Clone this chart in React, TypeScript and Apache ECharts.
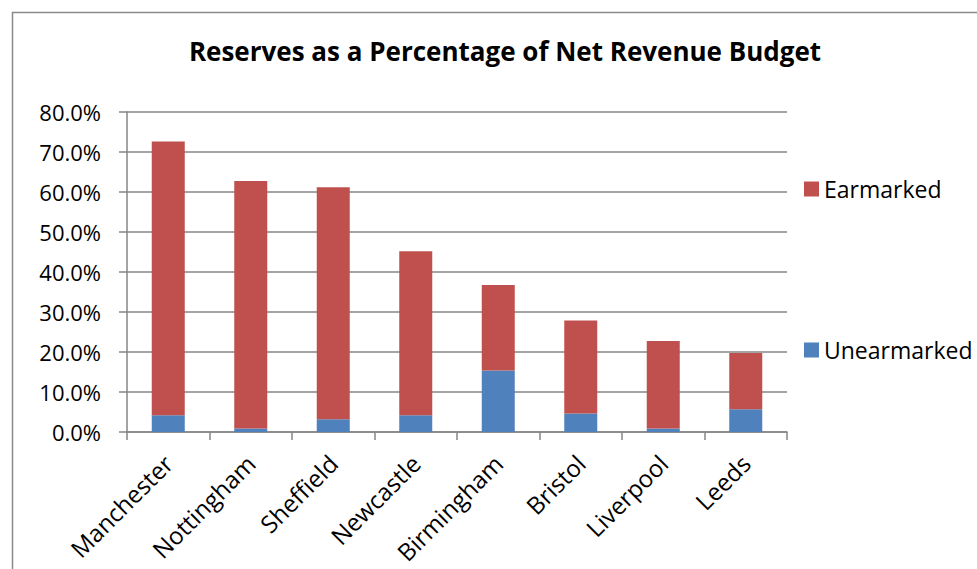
import React, { useEffect, useRef } from "react";
import * as echarts from "echarts";

const categories = ["Manchester", "Nottingham", "Sheffield", "Newcastle", "Birmingham", "Bristol", "Liverpool", "Leeds"];
const unearmarked = [4.2, 0.85, 3.2, 4.2, 15.4, 4.6, 0.9, 5.7];
const earmarked = [68.4, 61.9, 58.0, 41.0, 21.35, 23.3, 21.85, 14.05];
const yTicks = { min: 0, max: 80, interval: 10 };
const titleText = "Reserves as a Percentage of Net Revenue Budget";

export default function App() {
  const ref = useRef<HTMLDivElement>(null);
  useEffect(() => {
    if (!ref.current) return;
    const chart = echarts.init(ref.current, null, { renderer: "svg" });
    const font = "'Open Sans', 'Noto Sans', sans-serif";
    chart.setOption({
      animation: false,
      backgroundColor: "#ffffff",
      textStyle: { fontFamily: font, color: "#000" },
      title: {
        text: titleText,
        left: 500,
        top: 33,
        textAlign: "center",
        textStyle: { fontFamily: font, fontWeight: "bold", fontSize: 26, color: "#000" },
      },
      graphic: [
        {
          type: "rect",
          shape: { x: 12.5, y: 12.5, width: 1000, height: 1000 },
          style: { fill: "none", stroke: "#8a8a8a", lineWidth: 1.5 },
          silent: true,
        },
      ],
      legend: [
        {
          data: ["Earmarked"],
          left: 804,
          top: 177,
          padding: 0,
          itemWidth: 15,
          itemHeight: 15,
          icon: "rect",
          textStyle: { fontFamily: font, fontSize: 23, lineHeight: 24, color: "#000" },
        },
        {
          data: ["Unearmarked"],
          left: 804,
          top: 338,
          padding: 0,
          itemWidth: 15,
          itemHeight: 15,
          icon: "rect",
          textStyle: { fontFamily: font, fontSize: 23, lineHeight: 24, color: "#000" },
        },
      ],
      grid: { left: 127, right: 190, top: 112, bottom: 137, containLabel: false },
      xAxis: {
        type: "category",
        data: categories,
        axisLine: { lineStyle: { color: "#868686", width: 1.5 } },
        axisTick: { show: true, length: 8, lineStyle: { color: "#868686", width: 1.5 } },
        axisLabel: {
          rotate: 45,
          interval: 0,
          margin: 27,
          fontFamily: font,
          fontSize: 24,
          color: "#000",
        },
      },
      yAxis: {
        type: "value",
        min: yTicks.min,
        max: yTicks.max,
        interval: yTicks.interval,
        axisLine: { show: true, lineStyle: { color: "#868686", width: 1.5 } },
        axisTick: { show: true, length: 8, lineStyle: { color: "#868686", width: 1.5 } },
        splitLine: { show: true, lineStyle: { color: "#868686", width: 1.5 } },
        axisLabel: {
          margin: 26,
          fontFamily: font,
          fontSize: 22,
          color: "#000",
          formatter: (v: number) => v.toFixed(1) + "%",
        },
      },
      series: [
        {
          name: "Unearmarked",
          type: "bar",
          stack: "total",
          data: unearmarked,
          barWidth: "40%",
          itemStyle: { color: "#4F81BD" },
        },
        {
          name: "Earmarked",
          type: "bar",
          stack: "total",
          data: earmarked,
          barWidth: "40%",
          itemStyle: { color: "#C0504D" },
        },
      ],
    });
    return () => chart.dispose();
  }, []);
  return (
    <div
      ref={ref}
      style={{ position: "absolute", left: 0, top: 0, width: 977, height: 569 }}
    />
  );
}
